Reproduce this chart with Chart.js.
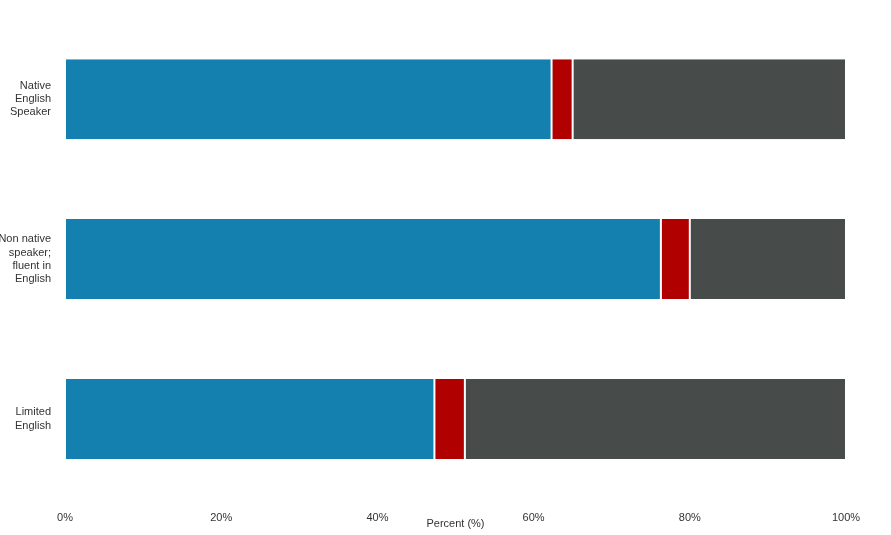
<!DOCTYPE html>
<html><head><meta charset="utf-8">
<script src="https://cdn.jsdelivr.net/npm/chart.js@4"></script>
<style>html,body{margin:0;padding:0;background:#fff}#w{width:891px;height:535px}</style>
</head><body><div id="w"><canvas id="c"></canvas></div>
<script>
const categories = [["Native","English","Speaker"],["Non native","speaker;","fluent in","English"],["Limited","English"]];
const seriesA = [62.3, 76.3, 47.3];
const seriesB = [2.7, 3.7, 3.9];
const seriesC = [35.0, 20.0, 48.8];
const tickLabels = ["0%","20%","40%","60%","80%","100%"];
const mk = (d,c)=>({data:d,backgroundColor:c,borderColor:'#fff',borderWidth:{left:1,right:1},borderSkipped:false,barPercentage:0.5,categoryPercentage:1});
new Chart(document.getElementById('c'),{
 type:'bar',
 data:{labels:categories,datasets:[mk(seriesA,'#1380b0'),mk(seriesB,'#b00000'),mk(seriesC,'#474c4a')]},
 options:{indexAxis:'y',responsive:true,maintainAspectRatio:false,animation:false,
  layout:{padding:{top:7,right:45,bottom:0,left:0}},
  plugins:{legend:{display:false},tooltip:{enabled:false}},
  scales:{
   x:{stacked:true,min:0,max:100,grid:{display:false},border:{display:false},
      afterFit:s=>{s.height=36;},
      ticks:{stepSize:20,color:'#333',font:{family:'Liberation Sans',size:11},padding:4,callback:(v,i)=>tickLabels[i]},
      title:{display:true,text:'Percent (%)',color:'#333',font:{family:'Liberation Sans',size:11},padding:{top:0}}},
   y:{stacked:true,grid:{display:false},border:{display:false},
      afterFit:s=>{s.width=65;},
      ticks:{color:'#333',font:{family:'Liberation Sans',size:11},padding:6}}
  }}
});
</script></body></html>
